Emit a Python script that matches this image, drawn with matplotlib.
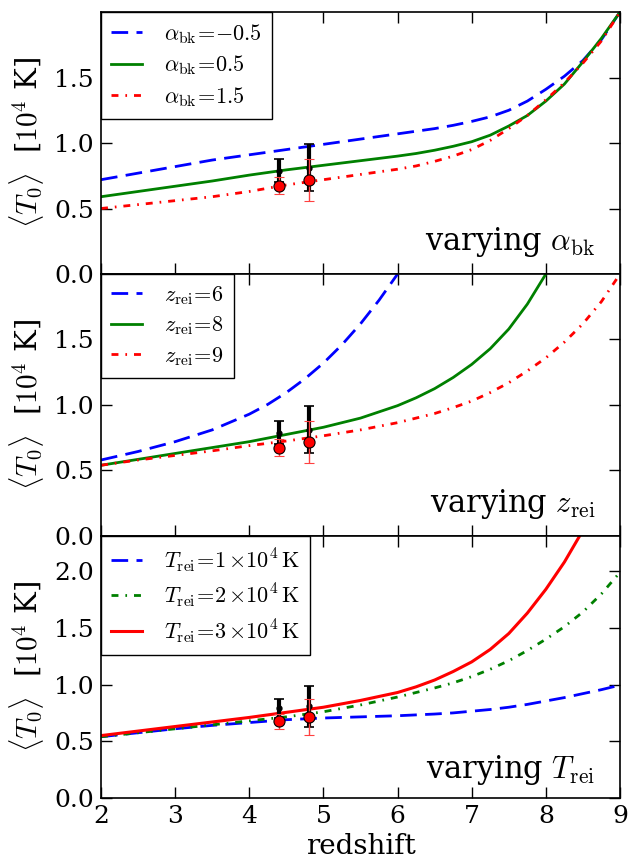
import numpy as np
import matplotlib
matplotlib.use('Agg')
import matplotlib.pyplot as plt

plt.rcParams['font.family'] = ['DejaVu Serif']
plt.rcParams['mathtext.fontset'] = 'cm'
plt.rcParams['mathtext.rm'] = 'serif'

## model curves: mean temperature T0 [1e4 K] against redshift ##

# varying alpha_bk
z_a = [2, 2.5, 3, 3.5, 4, 4.5, 5, 5.5, 6, 6.25, 6.5, 6.75, 7, 7.25, 7.5, 7.75, 8, 8.25, 8.5, 8.75, 9]
t_a_m05 = [0.72, 0.77, 0.82, 0.87, 0.91, 0.95, 0.99, 1.03, 1.07, 1.09, 1.11, 1.135, 1.165, 1.20, 1.25, 1.32, 1.41, 1.51, 1.63, 1.79, 2.0]
t_a_05 = [0.59, 0.63, 0.67, 0.71, 0.755, 0.795, 0.83, 0.865, 0.90, 0.92, 0.945, 0.975, 1.01, 1.06, 1.13, 1.21, 1.32, 1.45, 1.62, 1.80, 2.0]
t_a_15 = [0.50, 0.53, 0.56, 0.59, 0.63, 0.68, 0.72, 0.76, 0.80, 0.825, 0.86, 0.90, 0.95, 1.02, 1.11, 1.21, 1.33, 1.46, 1.61, 1.78, 2.0]

# varying z_rei
z_r6 = [2, 2.5, 3, 3.5, 4, 4.25, 4.5, 4.75, 5, 5.25, 5.5, 5.75, 6]
t_r6 = [0.58, 0.645, 0.72, 0.81, 0.93, 1.005, 1.095, 1.20, 1.32, 1.46, 1.62, 1.80, 2.0]
z_r8 = [2, 2.5, 3, 3.5, 4, 4.5, 5, 5.5, 6, 6.25, 6.5, 6.75, 7, 7.25, 7.5, 7.75, 8]
t_r8 = [0.54, 0.585, 0.63, 0.675, 0.72, 0.775, 0.83, 0.90, 0.995, 1.055, 1.125, 1.21, 1.31, 1.43, 1.58, 1.77, 2.0]
z_r9 = [2, 2.5, 3, 3.5, 4, 4.5, 5, 5.5, 6, 6.5, 6.75, 7, 7.25, 7.5, 7.75, 8, 8.25, 8.5, 8.75, 9]
t_r9 = [0.54, 0.58, 0.615, 0.65, 0.69, 0.725, 0.765, 0.81, 0.865, 0.935, 0.98, 1.03, 1.095, 1.17, 1.26, 1.36, 1.48, 1.62, 1.79, 2.0]

# varying T_rei
z_t = [2, 2.5, 3, 3.5, 4, 4.5, 5, 5.5, 6, 6.5, 6.75, 7, 7.25, 7.5, 7.75, 8, 8.25, 8.5, 8.75, 9]
t_t1 = [0.54, 0.575, 0.61, 0.64, 0.665, 0.69, 0.705, 0.715, 0.725, 0.74, 0.75, 0.765, 0.78, 0.80, 0.825, 0.855, 0.885, 0.92, 0.955, 0.995]
t_t2 = [0.54, 0.575, 0.61, 0.645, 0.68, 0.715, 0.76, 0.82, 0.89, 0.97, 1.015, 1.07, 1.135, 1.21, 1.30, 1.40, 1.51, 1.64, 1.80, 1.99]
z_t3 = [2, 2.5, 3, 3.5, 4, 4.5, 5, 5.5, 6, 6.25, 6.5, 6.75, 7, 7.25, 7.5, 7.75, 8, 8.25, 8.5]
t_t3 = [0.55, 0.59, 0.63, 0.67, 0.71, 0.755, 0.80, 0.86, 0.93, 0.98, 1.04, 1.115, 1.20, 1.31, 1.45, 1.63, 1.84, 2.08, 2.36]

## measurements ##
z_obs = [4.4, 4.8]
t_obs1 = [0.79, 0.81]
err_obs1 = [0.085, 0.18]
t_obs2 = [0.675, 0.715]
err_obs2 = [0.065, 0.16]

labels_a = [r'$\alpha_{\rm bk}\!=\!{-0.5}$', r'$\alpha_{\rm bk}\!=\!0.5$', r'$\alpha_{\rm bk}\!=\!1.5$']
labels_r = [r'$z_{\rm rei}\!=\!6$', r'$z_{\rm rei}\!=\!8$', r'$z_{\rm rei}\!=\!9$']
labels_t = [r'$T_{\rm rei}\!=\!1\,{\times}10^4\,{\rm K}$', r'$T_{\rm rei}\!=\!2\,{\times}10^4\,{\rm K}$',
            r'$T_{\rm rei}\!=\!3\,{\times}10^4\,{\rm K}$']
titles = [r'varying $\alpha_{\rm bk}$', r'varying $z_{\rm rei}$', r'varying $T_{\rm rei}$']

dash = (6, 3)
dashdot = (2.5, 2.5, 0.6, 2.5)

fig, axes = plt.subplots(3, 1, sharex=True, figsize=(6.29, 8.65), dpi=100)
fig.subplots_adjust(left=0.1606, right=0.9857, top=0.9861, bottom=0.0775, hspace=0)

ax1, ax2, ax3 = axes
ax1.plot(z_a, t_a_m05, color='blue', lw=2, dashes=dash, label=labels_a[0])
ax1.plot(z_a, t_a_05, color='green', lw=2, label=labels_a[1])
ax1.plot(z_a, t_a_15, color='red', lw=2, dashes=dashdot, label=labels_a[2])

ax2.plot(z_r6, t_r6, color='blue', lw=2, dashes=dash, label=labels_r[0])
ax2.plot(z_r8, t_r8, color='green', lw=2, label=labels_r[1])
ax2.plot(z_r9, t_r9, color='red', lw=2, dashes=dashdot, label=labels_r[2])

ax3.plot(z_t, t_t1, color='blue', lw=2, dashes=dash, label=labels_t[0])
ax3.plot(z_t, t_t2, color='green', lw=2, dashes=dashdot, label=labels_t[1])
ax3.plot(z_t3, t_t3, color='red', lw=2.2, label=labels_t[2])

ylims = [2.0, 2.0, 2.31]
text_y = [0.09, 0.09, 0.075]
for i, ax in enumerate(axes):
    ax.errorbar(z_obs, t_obs1, yerr=err_obs1, fmt='o', color='k', ms=3.5,
                elinewidth=3, capsize=3.5, capthick=1.2, zorder=4)
    ax.errorbar(z_obs, t_obs2, yerr=err_obs2, fmt='o', mfc='red', mec='k', mew=0.8,
                ms=8, ecolor='#ff4040', elinewidth=1, capsize=3.5, capthick=1, zorder=5)
    leg = ax.legend(loc='upper left', fontsize=16, fancybox=False, framealpha=1,
                    handlelength=1.4, handletextpad=1.0, borderaxespad=0,
                    borderpad=0.45, labelspacing=0.35)
    leg.get_frame().set_edgecolor('k')
    leg.get_frame().set_linewidth(1.0)
    ax.text(0.952, text_y[i], titles[i], transform=ax.transAxes, ha='right',
            va='baseline', fontsize=22)
    ax.set_xlim(2, 9)
    ax.set_ylim(0, ylims[i])
    ax.set_ylabel(r'$\langle T_0 \rangle$  [$10^4$ K]', fontsize=21, labelpad=6)
    ax.tick_params(direction='in', length=8, width=1, top=True, right=True,
                   labelsize=18, pad=5)
    for s in ax.spines.values():
        s.set_linewidth(1.2)

ax1.set_yticks([0, 0.5, 1.0, 1.5])
ax2.set_yticks([0, 0.5, 1.0, 1.5])
ax3.set_yticks([0, 0.5, 1.0, 1.5, 2.0])
ax3.set_xticks(range(2, 10))
ax3.set_xlabel('redshift', fontsize=20, labelpad=4)

fig.savefig('out.png', dpi=100)
